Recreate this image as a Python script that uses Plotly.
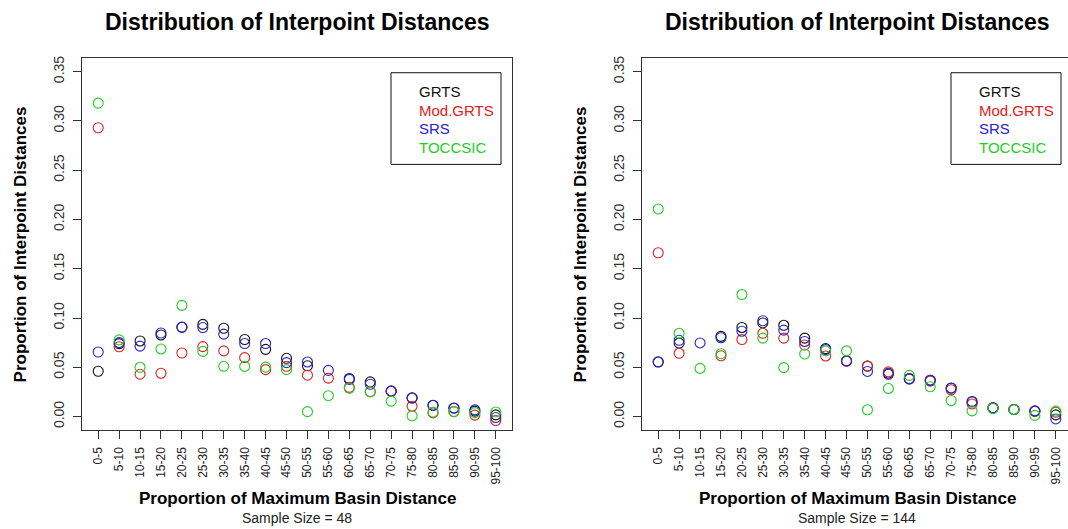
import plotly.graph_objects as go

# ---------------- data ----------------
categories = ["0-5", "5-10", "10-15", "15-20", "20-25", "25-30", "30-35", "35-40",
              "40-45", "45-50", "50-55", "55-60", "60-65", "65-70", "70-75",
              "75-80", "80-85", "85-90", "90-95", "95-100"]

series_names = ["GRTS", "Mod.GRTS", "SRS", "TOCCSIC"]

# Sample size = 48 (left panel)
grts_48 = [0.046, 0.074, 0.0767, 0.0828, 0.0906, 0.0935, 0.0896, 0.0782, 0.0682, 0.0591,
           0.0515, None, 0.0386, 0.0352, 0.0258, 0.0190, 0.0115, 0.0085, 0.0055, 0.0017]
mod_48 = [0.293, 0.0708, 0.0430, 0.0440, 0.0645, 0.0710, 0.0667, 0.0598, 0.0476, 0.0510,
          0.0420, 0.0390, 0.0296, 0.0253, 0.0258, 0.0105, 0.0037, 0.0050, 0.0015, -0.0040]
srs_48 = [0.0655, 0.0750, 0.0715, 0.0848, 0.0908, 0.0903, 0.0836, 0.0741, 0.0741, 0.0547,
          0.0554, 0.0469, 0.0377, 0.0328, 0.0258, 0.0188, 0.0113, 0.0087, 0.0068, -0.0010]
toc_48 = [0.318, 0.0778, 0.0500, 0.0686, 0.1128, 0.0661, 0.0510, 0.0509, 0.0502, 0.0476,
          0.0050, 0.0212, 0.0287, 0.0252, 0.0157, 0.0008, 0.0045, 0.0050, 0.0040, 0.0047]

# Sample size = 144 (right panel)
grts_144 = [0.0553, 0.0745, None, 0.0814, 0.0904, 0.0950, 0.0926, 0.0796, 0.0690, 0.0565,
            0.0512, 0.0440, 0.0386, 0.0369, 0.0290, 0.0153, 0.0088, 0.0072, 0.0055, 0.0017]
mod_144 = [0.1662, 0.0642, None, 0.0617, 0.0782, 0.0845, 0.0796, 0.0726, 0.0615, 0.0565,
           0.0512, 0.0454, 0.0380, 0.0360, 0.0272, 0.0128, 0.0088, 0.0070, 0.0053, 0.0044]
srs_144 = [0.0556, 0.0774, 0.0747, 0.0800, 0.0866, 0.0972, 0.0877, 0.0762, 0.0679, 0.0562,
           0.0458, 0.0429, 0.0383, 0.0369, 0.0288, 0.0148, 0.0088, 0.0072, 0.0058, -0.0024]
toc_144 = [0.2106, 0.0845, 0.0489, 0.0638, 0.1238, 0.0796, 0.0497, 0.0635, 0.0666, 0.0667,
           0.0069, 0.0285, 0.0418, 0.0302, 0.0163, 0.0058, 0.0082, 0.0072, 0.0012, 0.0055]

sample_sizes = [48, 144]
y_tick_values = [0.00, 0.05, 0.10, 0.15, 0.20, 0.25, 0.30, 0.35]

main_title = "Distribution of Interpoint Distances"
x_title = "Proportion of Maximum Basin Distance"
y_title = "Proportion of Interpoint Distances"

# ---------------- styling / layout ----------------
W, H = 1068, 529
colors = ["#111111", "#E02222", "#2525D5", "#22CC22"]
FONT = "Liberation Sans, Arial, Helvetica, sans-serif"
AXC = "#333333"

panels = [
    dict(data=[grts_48, mod_48, srs_48, toc_48], left=82.3, right=511.7),
    dict(data=[grts_144, mod_144, srs_144, toc_144], left=642.3, right=1071.7),
]
top_px, bot_px = 56.0, 430.0
unit_px = (511.7 - 82.3) / (len(categories) - 1 + 2 * 0.76)

def px(x):
    return x / W

def py(y):
    return 1 - y / H

fig = go.Figure()
annotations = []
shapes = []

for i, p in enumerate(panels):
    xa = "x" if i == 0 else "x2"
    ya = "y" if i == 0 else "y2"
    for name, vals, col in zip(series_names, p["data"], colors):
        fig.add_trace(go.Scatter(
            x=categories, y=vals, mode="markers", name=name,
            xaxis=xa, yaxis=ya, showlegend=False,
            marker=dict(symbol="circle-open", size=10, color=col,
                        line=dict(width=1.1, color=col)),
            cliponaxis=False,
        ))
    right_px = min(p["right"], W)
    clipped = p["right"] > W
    xr_hi = -0.76 + (right_px - p["left"]) / unit_px
    axis_common = dict(showline=True, linecolor=AXC, linewidth=1,
                       ticks="outside", ticklen=8, tickcolor=AXC, tickwidth=1,
                       showgrid=False, zeroline=False)
    xkey = "xaxis" if i == 0 else "xaxis2"
    ykey = "yaxis" if i == 0 else "yaxis2"
    fig.update_layout(**{
        xkey: dict(domain=[px(p["left"]), px(right_px)], anchor=ya, type="category",
                   range=[-0.76, xr_hi], tickmode="array", tickvals=categories,
                   ticktext=categories, tickangle=-90, mirror=True,
                   tickfont=dict(family=FONT, size=12, color="#222"),
                   ticklabelstandoff=3, **axis_common),
        ykey: dict(domain=[py(bot_px), py(top_px)], anchor=xa,
                   range=[-0.014, 0.364], tickmode="array", tickvals=y_tick_values,
                   ticktext=[f"{v:.2f}" for v in y_tick_values], tickangle=-90,
                   mirror=not clipped,
                   tickfont=dict(family=FONT, size=14, color="#333"),
                   ticklabelstandoff=4, **axis_common),
    })
    cx = (p["left"] + p["right"]) / 2
    annotations.append(dict(text=f"<b>{main_title}</b>", x=px(cx), y=py(20.5),
                            xref="paper", yref="paper", showarrow=False,
                            xanchor="center", yanchor="middle",
                            font=dict(family=FONT, size=23, color="#000")))
    annotations.append(dict(text=f"<b>{x_title}</b>", x=px(cx), y=py(498.5),
                            xref="paper", yref="paper", showarrow=False,
                            xanchor="center", yanchor="middle",
                            font=dict(family=FONT, size=17, color="#000")))
    annotations.append(dict(text=f"Sample Size = {sample_sizes[i]}", x=px(cx), y=py(518),
                            xref="paper", yref="paper", showarrow=False,
                            xanchor="center", yanchor="middle",
                            font=dict(family=FONT, size=14, color="#222")))
    annotations.append(dict(text=f"<b>{y_title}</b>", x=px(p["left"] - 62), y=py((top_px + bot_px) / 2),
                            xref="paper", yref="paper", showarrow=False, textangle=-90,
                            xanchor="center", yanchor="middle",
                            font=dict(family=FONT, size=17, color="#000")))
    # legend box
    lx0 = p["left"] + 308.7
    shapes.append(dict(type="rect", xref="paper", yref="paper",
                       x0=px(lx0), x1=px(lx0 + 110), y0=py(163), y1=py(71),
                       line=dict(color="#111", width=1), fillcolor="rgba(0,0,0,0)"))
    for k, (name, col) in enumerate(zip(series_names, colors)):
        annotations.append(dict(text=name, x=px(lx0 + 26), y=py(90 + k * 18.7),
                                xref="paper", yref="paper", showarrow=False,
                                xanchor="left", yanchor="middle",
                                font=dict(family=FONT, size=15, color=col)))

fig.update_layout(width=W, height=H, margin=dict(l=0, r=0, t=0, b=0),
                  paper_bgcolor="white", plot_bgcolor="white",
                  annotations=annotations, shapes=shapes, showlegend=False)

fig.write_html("out.html", config={"displayModeBar": False},
               post_script="document.body.style.margin='0';"
                           "document.body.style.overflow='hidden';")
